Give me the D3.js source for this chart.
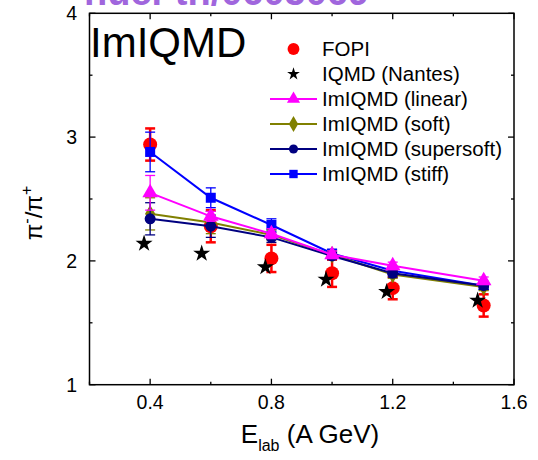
<!DOCTYPE html>
<html><head><meta charset="utf-8">
<script src="https://cdn.jsdelivr.net/npm/d3@7"></script>
<style>
html,body{margin:0;padding:0;background:#fff;}
text{font-family:"Liberation Sans",Arial,sans-serif;}
</style></head>
<body><svg id="c" width="538" height="460"></svg>
<script>
const energies = [0.4, 0.6, 0.8, 1.0, 1.2, 1.5];
const fopi = [2.94, 2.28, 2.02, 1.90, 1.78, 1.64];
const fopiErr = [0.13, 0.13, 0.11, 0.11, 0.09, 0.09];
const nantesE = [0.38, 0.57, 0.78, 0.98, 1.18, 1.48];
const nantes = [2.14, 2.06, 1.95, 1.85, 1.75, 1.68];
const linear = [2.55, 2.36, 2.22, 2.05, 1.96, 1.84];
const linearErr = [0.14, 0.04, 0.04, 0.03, 0.03, 0.03];
const soft = [2.38, 2.31, 2.21, 2.05, 1.89, 1.79];
const softErr = [0.13, 0.09, 0.04, 0.03, 0.03, 0.03];
const supersoft = [2.34, 2.28, 2.19, 2.04, 1.90, 1.80];
const supersoftErr = [0.13, 0.09, 0.04, 0.03, 0.03, 0.03];
const stiff = [2.88, 2.51, 2.29, 2.06, 1.92, 1.80];
const stiffErr = [0.16, 0.08, 0.05, 0.03, 0.03, 0.03];
const xTicks = [0.4, 0.8, 1.2, 1.6];
const xMinor = [0.2, 0.6, 1.0, 1.4];
const yTicks = [1, 2, 3, 4];
const yMinor = [1.5, 2.5, 3.5];
const legendLabels = ["FOPI", "IQMD (Nantes)", "ImIQMD (linear)", "ImIQMD (soft)", "ImIQMD (supersoft)", "ImIQMD (stiff)"];

const svg = d3.select("#c");
const x = d3.scaleLinear([0.2, 1.6], [89.5, 514]);
const y = d3.scaleLinear([1, 4], [384.7, 13.3]);

// watermark text cut at top
svg.append("text").attr("x", 84).attr("y", 5).attr("font-size", 38).attr("font-weight", "bold")
  .attr("fill", "#a066dd").text("nucl-th/0605069");

// frame
svg.append("rect").attr("x", x(0.2)).attr("y", y(4)).attr("width", x(1.6) - x(0.2)).attr("height", y(1) - y(4))
  .attr("fill", "none").attr("stroke", "#000").attr("stroke-width", 1.5);

const ax = svg.append("g").attr("stroke", "#000").attr("stroke-width", 1.3);
xTicks.forEach(t => {
  ax.append("line").attr("x1", x(t)).attr("x2", x(t)).attr("y1", y(1)).attr("y2", y(1) - 6);
  ax.append("line").attr("x1", x(t)).attr("x2", x(t)).attr("y1", y(4)).attr("y2", y(4) + 6);
});
xMinor.forEach(t => {
  ax.append("line").attr("x1", x(t)).attr("x2", x(t)).attr("y1", y(1)).attr("y2", y(1) - 3);
  ax.append("line").attr("x1", x(t)).attr("x2", x(t)).attr("y1", y(4)).attr("y2", y(4) + 3);
});
yTicks.forEach(t => {
  ax.append("line").attr("x1", x(0.2)).attr("x2", x(0.2) + 6).attr("y1", y(t)).attr("y2", y(t));
  ax.append("line").attr("x1", x(1.6)).attr("x2", x(1.6) - 6).attr("y1", y(t)).attr("y2", y(t));
});
yMinor.forEach(t => {
  ax.append("line").attr("x1", x(0.2)).attr("x2", x(0.2) + 3).attr("y1", y(t)).attr("y2", y(t));
  ax.append("line").attr("x1", x(1.6)).attr("x2", x(1.6) - 3).attr("y1", y(t)).attr("y2", y(t));
});
svg.append("g").selectAll("text").data(xTicks).join("text")
  .attr("x", d => x(d)).attr("y", 409).attr("text-anchor", "middle").attr("font-size", 19.5).text(d => d.toFixed(1));
svg.append("g").selectAll("text").data(yTicks).join("text")
  .attr("x", 77).attr("y", d => y(d) + 7).attr("text-anchor", "end").attr("font-size", 19.5).text(d => d);

// axis titles
const xl = svg.append("text").attr("x", 310).attr("y", 443).attr("text-anchor", "middle").attr("font-size", 26);
xl.append("tspan").text("E");
xl.append("tspan").attr("font-size", 16).attr("dy", 8).text("lab");
xl.append("tspan").attr("dy", -8).text(" (A GeV)");

const yl = svg.append("text").attr("transform", "translate(42,213) rotate(-90)").attr("text-anchor", "middle").attr("font-size", 24);
yl.append("tspan").text("\u03c0");
yl.append("tspan").attr("font-size", 16).attr("dy", -10).text("-");
yl.append("tspan").attr("dy", 10).text("/\u03c0");
yl.append("tspan").attr("font-size", 16).attr("dy", -10).text("+");

svg.append("text").attr("x", 90).attr("y", 57).attr("font-size", 42).text("ImIQMD");

const sym = (type, size) => d3.symbol().type(type).size(size)();

function errBars(g, vals, errs, color, sw, cap) {
  energies.forEach((e, i) => {
    const cx = x(e), y1 = y(vals[i] + errs[i]), y2 = y(vals[i] - errs[i]);
    g.append("line").attr("x1", cx).attr("x2", cx).attr("y1", y1).attr("y2", y2).attr("stroke", color).attr("stroke-width", sw);
    g.append("line").attr("x1", cx - cap).attr("x2", cx + cap).attr("y1", y1).attr("y2", y1).attr("stroke", color).attr("stroke-width", sw);
    g.append("line").attr("x1", cx - cap).attr("x2", cx + cap).attr("y1", y2).attr("y2", y2).attr("stroke", color).attr("stroke-width", sw);
  });
}

// FOPI
const gF = svg.append("g");
errBars(gF, fopi, fopiErr, "#ff0000", 2.5, 5);
gF.selectAll("circle").data(energies).join("circle")
  .attr("cx", d => x(d)).attr("cy", (d, i) => y(fopi[i])).attr("r", 7).attr("fill", "#ff0000");

// Nantes stars
svg.append("g").selectAll("path").data(nantesE).join("path")
  .attr("transform", (d, i) => `translate(${x(d)},${y(nantes[i])})`)
  .attr("d", sym(d3.symbolStar, 90)).attr("fill", "#000");

const models = [
  {vals: stiff, errs: stiffErr, color: "#0000ff", shape: d3.symbolSquare, size: 100},
  {vals: soft, errs: softErr, color: "#808000", shape: d3.symbolDiamond, size: 90},
  {vals: supersoft, errs: supersoftErr, color: "#000080", shape: d3.symbolCircle, size: 95},
  {vals: linear, errs: linearErr, color: "#ff00ff", shape: d3.symbolTriangle, size: 105},
];
const line = d3.line().x(d => x(d[0])).y(d => y(d[1]));
models.forEach(m => {
  const g = svg.append("g");
  errBars(g, m.vals, m.errs, m.color, 1.3, 5);
  g.append("path").attr("d", line(energies.map((e, i) => [e, m.vals[i]])))
    .attr("fill", "none").attr("stroke", m.color).attr("stroke-width", 2);
  g.selectAll("path.m").data(energies).join("path").attr("class", "m")
    .attr("transform", (d, i) => `translate(${x(d)},${y(m.vals[i])})`)
    .attr("d", sym(m.shape, m.size)).attr("fill", m.color);
});

// legend
const legY = [49, 74, 99, 124, 149, 174];
const legColors = ["#ff0000", "#000", "#ff00ff", "#808000", "#000080", "#0000ff"];
const legShapes = [d3.symbolCircle, d3.symbolStar, d3.symbolTriangle, d3.symbolDiamond, d3.symbolCircle, d3.symbolSquare];
const legSizes = [110, 50, 75, 75, 65, 70];
const lg = svg.append("g");
legendLabels.forEach((lab, i) => {
  if (i >= 2) {
    lg.append("line").attr("x1", 270).attr("x2", 317).attr("y1", legY[i]).attr("y2", legY[i])
      .attr("stroke", legColors[i]).attr("stroke-width", 2.2);
  }
  lg.append("path").attr("transform", `translate(293.5,${legY[i]})`).attr("d", sym(legShapes[i], legSizes[i])).attr("fill", legColors[i]);
  lg.append("text").attr("x", 322).attr("y", legY[i] + 7).attr("font-size", 20.5).text(lab);
});
</script></body></html>
